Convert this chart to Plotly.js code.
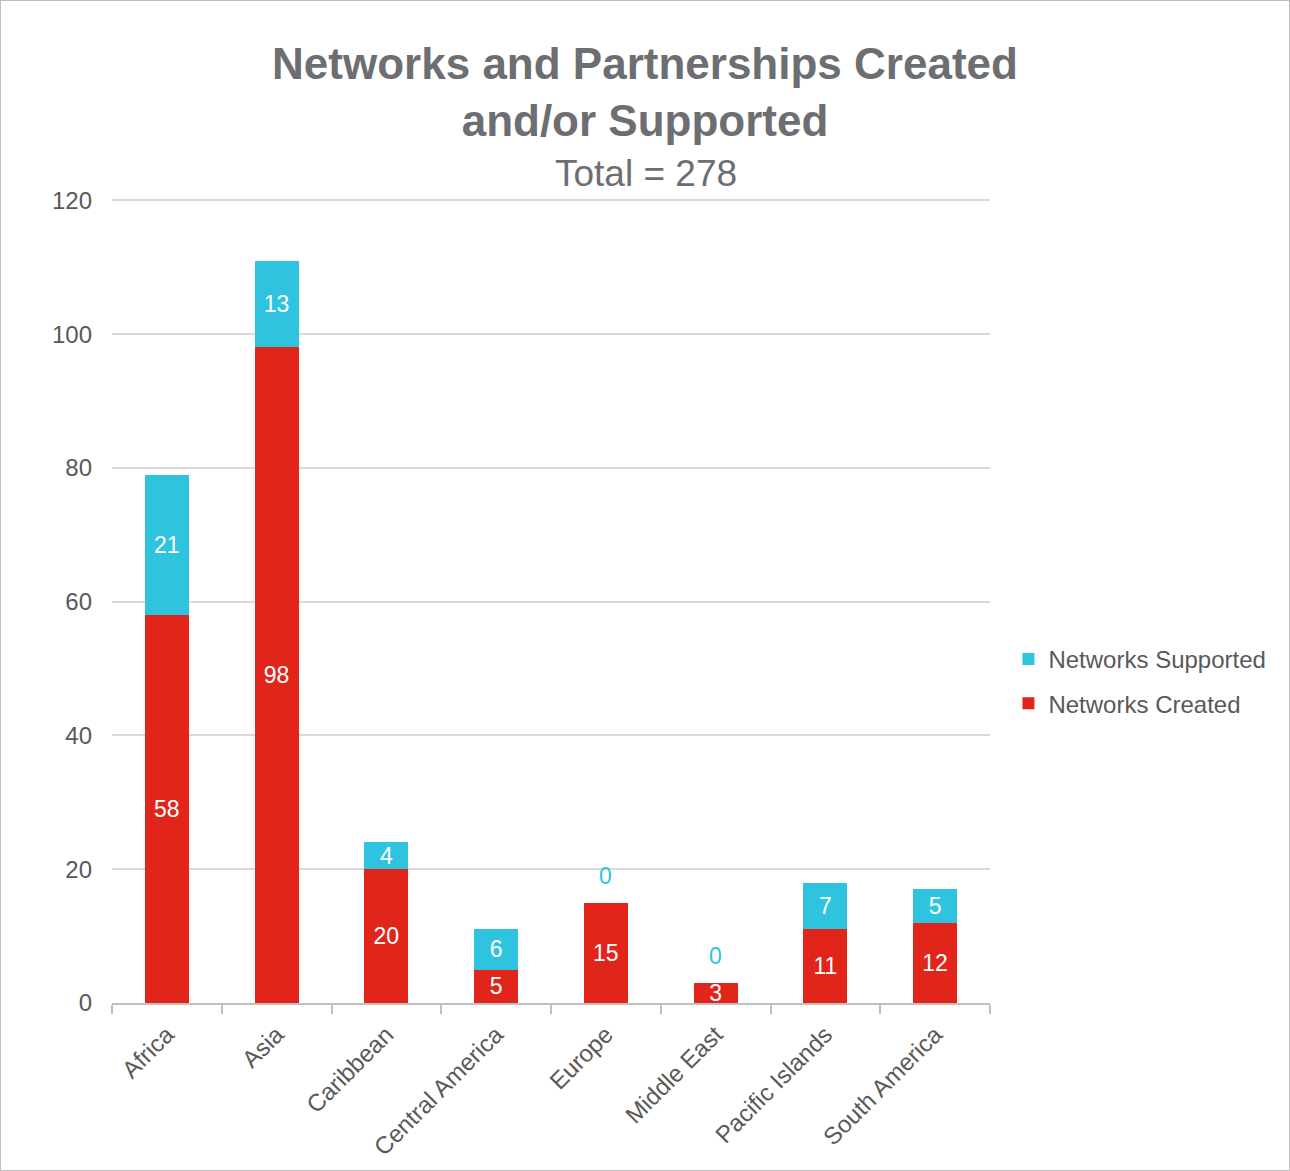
<!DOCTYPE html>
<html>
<head>
<meta charset="utf-8">
<script src="https://cdn.plot.ly/plotly-3.0.1.min.js"></script>
<style>
  body { margin: 0; background: #fff; }
  #frame { width: 1290px; height: 1171px; box-sizing: border-box; border: 1px solid #BFBFBF; }
  #chart { width: 1288px; height: 1169px; }
</style>
</head>
<body>
<div id="frame"><div id="chart"></div></div>
<script>
var regions = ["Africa", "Asia", "Caribbean", "Central America", "Europe", "Middle East", "Pacific Islands", "South America"];
var networksCreated = [58, 98, 20, 5, 15, 3, 11, 12];
var networksSupported = [21, 13, 4, 6, 0, 0, 7, 5];

var red = "#E1251B";
var cyan = "#2EC4DF";
var grey = "#595959";
var font = "Liberation Sans, Arial, sans-serif";

var createdTrace = {
    x: regions,
    y: networksCreated,
    type: "bar",
    name: "Networks Created",
    legendgroup: "a",
    legendrank: 2,
    marker: { color: red },
    text: networksCreated.map(String),
    textposition: "inside",
    insidetextanchor: "middle",
    textangle: 0,
    textfont: { color: "#ffffff", size: 23, family: font },
    hoverinfo: "x+y+name"
};

var supportedTrace = {
    x: regions,
    y: networksSupported,
    type: "bar",
    name: "Networks Supported",
    legendgroup: "b",
    legendrank: 1,
    marker: { color: cyan },
    text: networksSupported.map(v => v > 0 ? String(v) : ""),
    textposition: "inside",
    insidetextanchor: "middle",
    textangle: 0,
    textfont: { color: "#ffffff", size: 23, family: font },
    hoverinfo: "x+y+name"
};

// zero values get their label above the stack, like the original
var zeroLabels = []
networksSupported.forEach(function (v, i) {
    if (v == 0) {
        zeroLabels.push({
            x: regions[i],
            y: networksCreated[i] + v,
            xref: "x",
            yref: "y",
            text: String(v),
            showarrow: false,
            yanchor: "bottom",
            yshift: 12,
            font: { color: cyan, size: 23, family: font }
        })
    }
})

var subtitle = {
    text: "Total = 278",
    xref: "paper",
    yref: "paper",
    x: (645 - 111) / 878,
    y: 1.004,
    xanchor: "center",
    yanchor: "bottom",
    showarrow: false,
    font: { family: font, size: 37, color: "#6D6E71" }
};

var layout = {
    width: 1288,
    height: 1169,
    barmode: "stack",
    bargap: 0.6,
    constraintext: "none",
    uniformtext: { mode: "show", minsize: 23 },
    paper_bgcolor: "#ffffff",
    plot_bgcolor: "#ffffff",
    margin: { l: 111, r: 299, t: 198, b: 167, autoexpand: false },
    font: { family: font, color: grey, size: 24 },
    title: {
        text: "<b>Networks and Partnerships Created<br>and/or Supported</b>",
        font: { family: font, size: 44, color: "#6D6E71" },
        x: 0.5,
        xref: "container",
        xanchor: "center",
        y: (1169 - 78) / 1169,
        yref: "container",
        yanchor: "top"
    },
    annotations: [subtitle].concat(zeroLabels),
    xaxis: {
        type: "category",
        tickangle: -45,
        tickson: "boundaries",
        ticks: "outside",
        ticklen: 9,
        tickwidth: 2,
        tickcolor: "#BFBFBF",
        showline: true,
        linecolor: "#BFBFBF",
        linewidth: 2,
        showgrid: false,
        tickfont: { size: 24, color: grey },
        ticklabelstandoff: 6
    },
    yaxis: {
        range: [0, 120.2],
        tickvals: [0, 20, 40, 60, 80, 100, 120],
        ticks: "",
        showgrid: true,
        gridcolor: "#D9D9D9",
        gridwidth: 2,
        zeroline: false,
        showline: false,
        tickfont: { size: 24, color: grey },
        ticklabelstandoff: 19
    },
    legend: {
        x: 1.021,
        xanchor: "left",
        y: 0.40,
        yanchor: "middle",
        traceorder: "grouped",
        tracegroupgap: 10,
        font: { size: 24, color: grey }
    },
    showlegend: true
};

Plotly.newPlot("chart", [createdTrace, supportedTrace], layout, { displayModeBar: false, staticPlot: true });
</script>
</body>
</html>
